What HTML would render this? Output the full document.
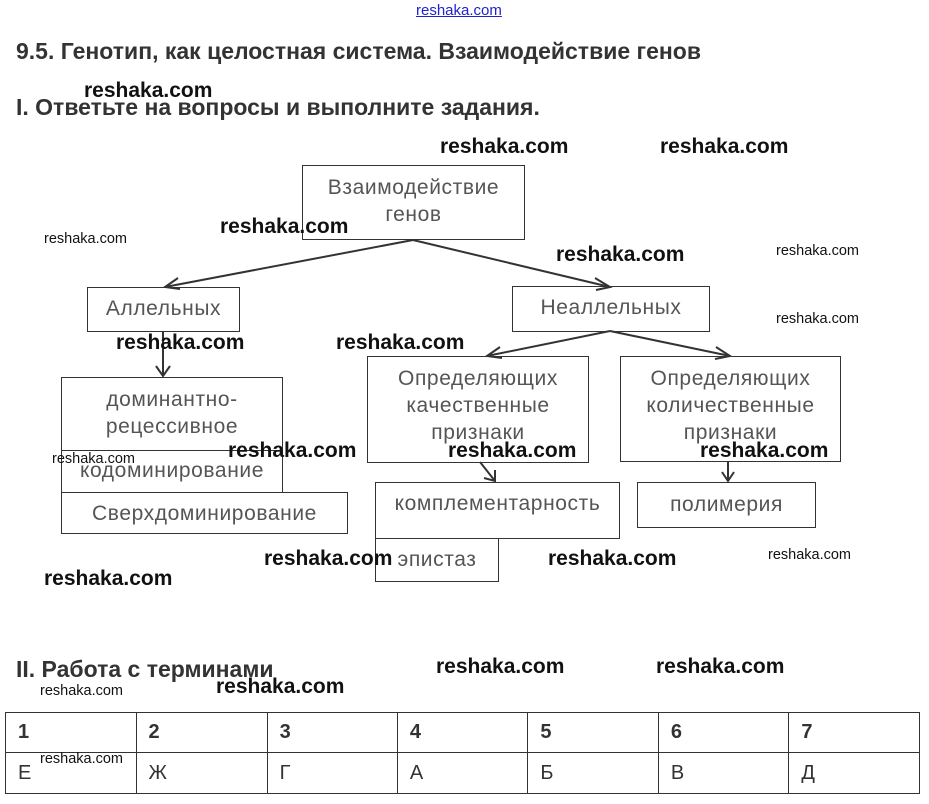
<!DOCTYPE html>
<html><head><meta charset="utf-8"><style>
body{margin:0;width:929px;height:804px;background:#fff;position:relative;overflow:hidden;font-family:"Liberation Sans",sans-serif}
.a{position:absolute}
.b{position:absolute;border:1px solid #333;box-sizing:border-box;color:#555;font-size:21px;letter-spacing:0.6px;text-align:center;line-height:27px;background:transparent;white-space:nowrap}
.w{position:absolute;font-weight:bold;font-size:21px;color:#111}
.s{position:absolute;font-size:14.5px;color:#111}
h{position:absolute;font-weight:bold;font-size:23px;color:#333}
table{position:absolute;left:5px;top:712px;width:915px;height:82px;border-collapse:collapse}
td{border:1px solid #333;width:130px;font-size:20px;color:#333;padding:0 0 0 12px;vertical-align:middle}
</style></head><body>
<div class="a" style="left:416px;top:2px;font-size:15px;color:#22c;text-decoration:underline">reshaka.com</div>
<h style="left:16px;top:38px">9.5. Генотип, как целостная система. Взаимодействие генов</h>
<h style="left:16px;top:94px">I. Ответьте на вопросы и выполните задания.</h>
<svg class="a" style="left:0;top:0" width="929" height="804">
<g stroke="#333" stroke-width="2" fill="none">
<line x1="413" y1="240" x2="165" y2="287"/><polyline points="178,278 165,287 180,289"/>
<line x1="413" y1="240" x2="610" y2="287"/><polyline points="595,278 610,287 596,290"/>
<line x1="610" y1="331" x2="487" y2="356"/><polyline points="500,347 487,356 502,358"/>
<line x1="610" y1="331" x2="730" y2="356"/><polyline points="716,347 730,356 715,359"/>
<line x1="163" y1="331" x2="163" y2="376"/><polyline points="156,366 163,376 170,366"/>
<line x1="480" y1="462" x2="495" y2="481"/><polyline points="484,478 495,481 495,470"/>
<line x1="728" y1="461" x2="728" y2="481"/><polyline points="722,472 728,481 734,472"/>
</g></svg>
<div class="b" style="left:302px;top:165px;width:223px;height:75px;padding-top:8px">Взаимодействие<br>генов</div>
<div class="b" style="left:87px;top:287px;width:153px;height:45px;padding-top:7px">Аллельных</div>
<div class="b" style="left:512px;top:286px;width:198px;height:46px;padding-top:7px">Неаллельных</div>
<div class="b" style="left:61px;top:377px;width:222px;height:74px;padding-top:8px">доминантно-<br>рецессивное</div>
<div class="b" style="left:61px;top:450px;width:222px;height:43px;padding-top:6px">кодоминирование</div>
<div class="b" style="left:61px;top:492px;width:287px;height:42px;padding-top:7px">Сверхдоминирование</div>
<div class="b" style="left:367px;top:356px;width:222px;height:107px;padding-top:8px">Определяющих<br>качественные<br>признаки</div>
<div class="b" style="left:620px;top:356px;width:221px;height:106px;padding-top:8px">Определяющих<br>количественные<br>признаки</div>
<div class="b" style="left:375px;top:482px;width:245px;height:57px;padding-top:7px">комплементарность</div>
<div class="b" style="left:375px;top:538px;width:124px;height:44px;padding-top:7px">эпистаз</div>
<div class="b" style="left:637px;top:482px;width:179px;height:46px;padding-top:8px">полимерия</div>
<h style="left:16px;top:656px">II. Работа с терминами</h>
<table><tr style="height:40px"><td><b>1</b></td><td><b>2</b></td><td><b>3</b></td><td><b>4</b></td><td><b>5</b></td><td><b>6</b></td><td><b>7</b></td></tr>
<tr><td>Е</td><td>Ж</td><td>Г</td><td>А</td><td>Б</td><td>В</td><td>Д</td></tr></table>
<div class="w" style="left:84px;top:79px">reshaka.com</div>
<div class="w" style="left:440px;top:135px">reshaka.com</div>
<div class="w" style="left:660px;top:135px">reshaka.com</div>
<div class="w" style="left:220px;top:215px">reshaka.com</div>
<div class="w" style="left:556px;top:243px">reshaka.com</div>
<div class="w" style="left:116px;top:331px">reshaka.com</div>
<div class="w" style="left:336px;top:331px">reshaka.com</div>
<div class="w" style="left:228px;top:439px">reshaka.com</div>
<div class="w" style="left:448px;top:439px">reshaka.com</div>
<div class="w" style="left:700px;top:439px">reshaka.com</div>
<div class="w" style="left:264px;top:547px">reshaka.com</div>
<div class="w" style="left:548px;top:547px">reshaka.com</div>
<div class="w" style="left:44px;top:567px">reshaka.com</div>
<div class="w" style="left:436px;top:655px">reshaka.com</div>
<div class="w" style="left:656px;top:655px">reshaka.com</div>
<div class="w" style="left:216px;top:675px">reshaka.com</div>
<div class="s" style="left:44px;top:231px">reshaka.com</div>
<div class="s" style="left:776px;top:243px">reshaka.com</div>
<div class="s" style="left:776px;top:311px">reshaka.com</div>
<div class="s" style="left:52px;top:451px">reshaka.com</div>
<div class="s" style="left:768px;top:547px">reshaka.com</div>
<div class="s" style="left:40px;top:683px">reshaka.com</div>
<div class="s" style="left:40px;top:751px">reshaka.com</div>
</body></html>
